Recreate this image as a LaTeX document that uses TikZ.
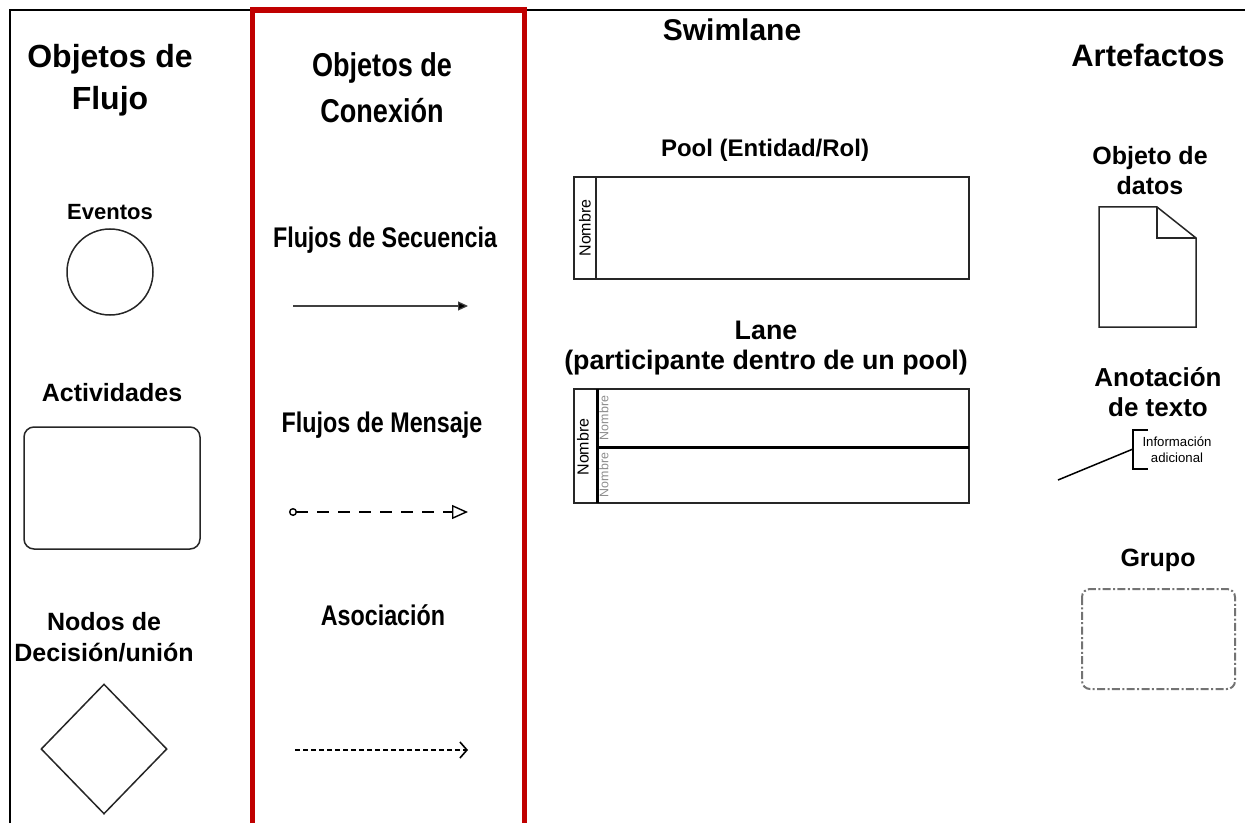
\documentclass[tikz,border=0pt]{standalone}
\usepackage{fontspec}
\setmainfont{Liberation Sans}
\newfontfamily\narrowfont[FakeStretch=0.82]{Liberation Sans}
\usetikzlibrary{shapes.geometric, arrows.meta}
\definecolor{frameRed}{RGB}{192,0,0}

\begin{document}
\begin{tikzpicture}[x=0.5pt, y=-0.5pt,
	colhead/.style={font=\bfseries\fontsize{16}{21}\selectfont, align=center, inner sep=0pt},
	conhead/.style={font=\narrowfont\bfseries\fontsize{16.5}{23}\selectfont, align=center, inner sep=0pt},
	conlbl/.style={font=\narrowfont\bfseries\fontsize{14.2}{17}\selectfont, inner sep=0pt},
	itemlbl/.style={font=\bfseries\fontsize{12.5}{15.5}\selectfont, align=center, inner sep=0pt},
	lanelbl/.style={font=\bfseries\fontsize{13.4}{15}\selectfont, align=center, inner sep=0pt},
	shapeline/.style={draw=black!85, line width=0.75pt},
	namelbl/.style={font=\fontsize{8}{9}\selectfont, rotate=90, inner sep=0pt},
	sublbl/.style={font=\fontsize{6.2}{7}\selectfont, rotate=90, text=black!45, inner sep=0pt},
	seqflow/.style={draw=black!75, line width=0.6pt, -{Triangle[length=5pt,width=4.5pt,fill=black]}},
	msgflow/.style={line width=0.7pt, dash pattern=on 6pt off 4.5pt,
		{Circle[open,length=4pt,width=4pt]}-{Triangle[open,length=8pt,width=7pt]}},
	asoflow/.style={line width=0.8pt, dash pattern=on 2.5pt off 1.5pt, -{Straight Barb[length=3.5pt,width=8pt]}}]

	\useasboundingbox (0,0) rectangle (1245,823);

	% frames
	\draw[line width=1pt] (10,823) -- (10,10) -- (1245,10);
	\draw[frameRed, line width=2.8pt] (252.5,823) -- (252.5,10) -- (524.5,10) -- (524.5,823);

	% objetos de flujo
	\node[colhead] (flujoTitle) at (110,80) {Objetos de\\Flujo};
	\node[itemlbl, font=\bfseries\fontsize{11}{13}\selectfont] (eventLbl) at (110,212) {Eventos};
	\node[shapeline, circle, minimum size=43pt] (eventShape) at (110,272) {};
	\node[itemlbl] (actLbl) at (112,393) {Actividades};
	\node[shapeline, rounded corners=5pt, minimum width=88pt, minimum height=61pt] (actShape) at (112,488) {};
	\node[itemlbl] (gateLbl) at (104,637) {Nodos de\\Decisión/unión};
	\node[shapeline, diamond, inner sep=0pt, minimum width=63pt, minimum height=65pt] (gateShape) at (104,749) {};

	% objetos de conexion
	\node[conhead] (conTitle) at (382,88) {Objetos de\\Conexión};
	\node[conlbl] (seqLbl) at (385,240) {Flujos de Secuencia};
	\coordinate (seqA) at (293,306);
	\coordinate (seqB) at (468,306);
	\draw[seqflow] (seqA) -- (seqB);
	\node[conlbl] (msgLbl) at (382,425) {Flujos de Mensaje};
	\coordinate (msgA) at (289,512);
	\coordinate (msgB) at (468,512);
	\draw[msgflow] (msgA) -- (msgB);
	\node[conlbl] (asoLbl) at (383,615) {Asociación};
	\coordinate (asoA) at (295,750);
	\coordinate (asoB) at (468,750);
	\draw[asoflow] (asoA) -- (asoB);

	% swimlane
	\node[colhead, font=\bfseries\fontsize{15}{18}\selectfont] (swimTitle) at (732,30) {Swimlane};
	\node[lanelbl, font=\bfseries\fontsize{12}{15}\selectfont] (poolLbl) at (765,150) {Pool (Entidad/Rol)};
	\draw[shapeline] (574,177) rectangle (969,279);
	\draw[shapeline] (596,177) -- (596,279);
	\node[namelbl] (poolName) at (585,228) {Nombre};

	\node[lanelbl] (laneLbl) at (766,348) {Lane\\(participante dentro de un pool)};
	\draw[shapeline] (574,389) rectangle (969,503);
	\draw[line width=1.5pt] (597,389) -- (597,503);
	\draw[line width=1.5pt] (597,447) -- (969,447);
	\node[namelbl] (laneName) at (583,447) {Nombre};
	\node[sublbl] (laneTop) at (604,418) {Nombre};
	\node[sublbl] (laneBot) at (604,475) {Nombre};

	% artefactos
	\node[colhead, font=\bfseries\fontsize{15.5}{18}\selectfont] (artTitle) at (1148,55) {Artefactos};
	\node[itemlbl, font=\bfseries\fontsize{12.5}{15}\selectfont] (dataLbl) at (1150,171) {Objeto de\\datos};
	\draw[shapeline] (1099,207) -- (1157,207) -- (1196,238) -- (1196,327) -- (1099,327) -- cycle;
	\draw[shapeline] (1157,207) -- (1157,238) -- (1196,238);

	\node[itemlbl, font=\bfseries\fontsize{13}{15}\selectfont] (noteLbl) at (1158,392) {Anotación\\de texto};
	\node[font=\fontsize{6.6}{8}\selectfont, align=center, inner sep=0pt] (noteText) at (1177,450) {Información\\adicional};
	\draw[line width=1pt] (1148,430) -- (1133,430) -- (1133,469) -- (1148,469);
	\coordinate (noteFoot) at (1058,480);
	\coordinate (noteJoin) at (1133,449);
	\draw[line width=0.75pt] (noteFoot) -- (noteJoin);

	\node[itemlbl] (groupLbl) at (1158,560) {Grupo};
	\draw[draw=black!55, line width=1pt, dash pattern=on 4pt off 1.2pt on 1pt off 1.2pt, rounded corners=4pt]
		(1082,589) rectangle (1235,689);
\end{tikzpicture}
\end{document}
